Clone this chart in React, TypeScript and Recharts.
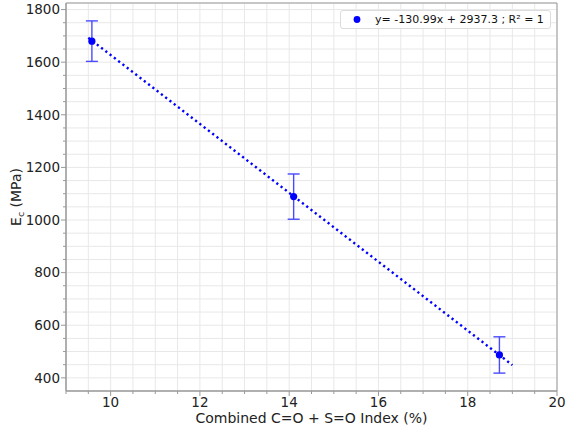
import React from 'react';
import { ComposedChart, Scatter, XAxis, YAxis, CartesianGrid, ErrorBar, ReferenceArea } from 'recharts';

const indexValues = [9.58, 14.1, 18.71];
const modulusValues = [1680, 1089, 487];
const modulusErrors = [77, 86, 69];
const fitX = [9.5, 19.0];
const fitY = [1692.9, 448.5];
const xTicks = [9, 9.5, 10, 10.5, 11, 11.5, 12, 12.5, 13, 13.5, 14, 14.5, 15, 15.5, 16, 16.5, 17, 17.5, 18, 18.5, 19, 19.5, 20];
const yTicks = [400, 450, 500, 550, 600, 650, 700, 750, 800, 850, 900, 950, 1000, 1050, 1100, 1150, 1200, 1250, 1300, 1350, 1400, 1450, 1500, 1550, 1600, 1650, 1700, 1750, 1800];
const legendText = 'y= -130.99x + 2937.3 ; R² = 1';

const points = indexValues.map((x, i) => ({ x, y: modulusValues[i], err: modulusErrors[i] }));
const fitLine = fitX.map((x, i) => ({ x, y: fitY[i] }));

const FONT = 'DejaVu Sans';
const AXIS = '#999';

const XTick = (props: any) => {
  const { x, y, payload } = props;
  const v = payload.value;
  const major = Math.abs(v % 2) < 1e-9;
  return (
    <g>
      <line x1={x} x2={x} y1={y} y2={y + (major ? 5 : 3)} stroke={AXIS} strokeWidth={1} />
      {major && (
        <text x={x} y={y + 15.7} textAnchor="middle" fontFamily={FONT} fontSize={13.5} fill="#222">
          {v}
        </text>
      )}
    </g>
  );
};

const YTick = (props: any) => {
  const { x, y, payload } = props;
  const v = payload.value;
  const major = v % 200 === 0;
  return (
    <g>
      <line x1={x} x2={x - (major ? 5 : 3)} y1={y} y2={y} stroke={AXIS} strokeWidth={1} />
      {major && (
        <text x={x - 6} y={y} dy="0.36em" textAnchor="end" fontFamily={FONT} fontSize={13.5} fill="#222">
          {v}
        </text>
      )}
    </g>
  );
};

const Dot = (props: any) => {
  const { cx, cy } = props;
  return <circle cx={cx} cy={cy} r={3.6} fill="#0000ff" />;
};

const NoShape = () => <g />;

const LegendBox = () => (
  <div
    style={{
      position: 'absolute',
      left: 340,
      top: 10,
      border: '1px solid #dcdcdc',
      borderRadius: 3,
      background: 'rgba(255,255,255,0.85)',
      width: 209,
      height: 17,
      display: 'flex',
      alignItems: 'center',
      fontFamily: FONT,
      fontSize: 11,
      color: '#111',
      boxSizing: 'content-box',
    }}
  >
    <svg width={34} height={17} style={{ display: 'block' }}>
      <circle cx={16} cy={8.5} r={3.4} fill="#0000ff" />
    </svg>
    <span style={{ whiteSpace: 'nowrap' }}>{legendText}</span>
  </div>
);

const YLabel = () => (
  <text transform="translate(21,197) rotate(-90)" textAnchor="middle" fontFamily={FONT} fontSize={14} fill="#222">
    <tspan>E</tspan>
    <tspan fontSize={9.5} dy={3}>c</tspan>
    <tspan dy={-3}> (MPa)</tspan>
  </text>
);

export default function App() {
  return (
    <div style={{ position: 'absolute', left: 0, top: 0, width: 567, height: 430, background: '#fff' }}>
      <ComposedChart width={567} height={430} margin={{ top: 3, right: 10, left: 0, bottom: 0 }}>
        <CartesianGrid stroke="#e8e8e8" strokeWidth={1} />
        <XAxis
          dataKey="x"
          type="number"
          domain={[9, 20]}
          ticks={xTicks}
          allowDataOverflow
          height={39}
          tickSize={0}
          tickMargin={0}
          tickLine={false}
          axisLine={{ stroke: AXIS }}
          tick={<XTick />}
          interval={0}
          label={{
            value: 'Combined C=O + S=O Index (%)',
            position: 'insideBottom',
            offset: 0,
            content: () => (
              <text x={311.5} y={423} textAnchor="middle" fontFamily={FONT} fontSize={14} fill="#222">
                Combined C=O + S=O Index (%)
              </text>
            ),
          }}
        />
        <YAxis
          dataKey="y"
          type="number"
          domain={[350, 1825]}
          ticks={yTicks}
          allowDataOverflow
          width={66}
          tickSize={0}
          tickMargin={0}
          tickLine={false}
          axisLine={{ stroke: AXIS }}
          tick={<YTick />}
          interval={0}
          label={{ value: 'Ec (MPa)', content: () => <YLabel /> }}
        />
        <ReferenceArea x1={9} x2={20} y1={350} y2={1825} fill="none" stroke={AXIS} strokeWidth={1} ifOverflow="visible" />
        <Scatter
          data={fitLine}
          isAnimationActive={false}
          shape={<NoShape />}
          line={{ stroke: '#0000ff', strokeWidth: 2.4, strokeDasharray: '2.2 3.2' }}
          lineType="joint"
          legendType="none"
        />
        <Scatter data={points} isAnimationActive={false} shape={<Dot />} fill="#0000ff">
          <ErrorBar dataKey="err" direction="y" width={6} stroke="#4a4aff" strokeWidth={1.4} isAnimationActive={false} />
        </Scatter>
      </ComposedChart>
      <LegendBox />
    </div>
  );
}
